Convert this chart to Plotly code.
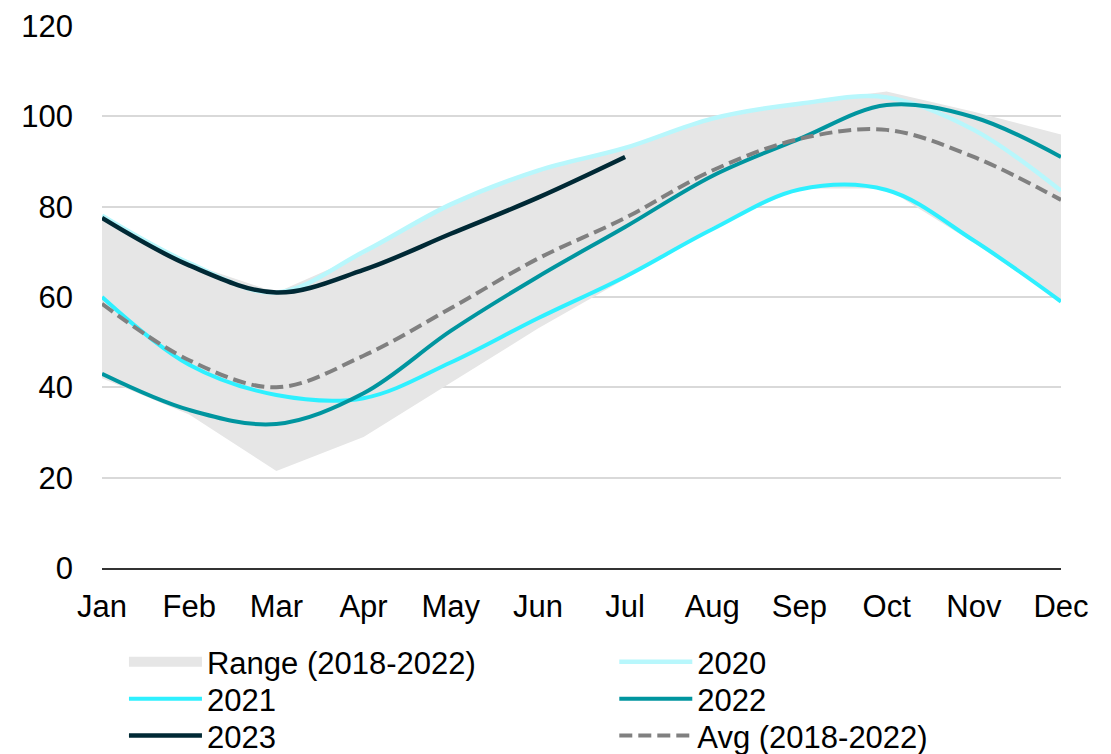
import plotly.graph_objects as go

months = ["Jan", "Feb", "Mar", "Apr", "May", "Jun", "Jul", "Aug", "Sep", "Oct", "Nov", "Dec"]

range_low = [42, 34, 21.5, 29, 41, 53, 64, 75.5, 84, 84, 72, 59]
range_high = [78, 67.5, 61, 69.5, 80.5, 88, 93, 99.5, 103, 105.5, 101, 96]

y2020 = [78, 67.5, 61, 70, 80.5, 88, 93, 99.5, 102.8, 104.2, 97, 83.5]
y2021 = [60, 45, 38.3, 37.6, 45.5, 55.3, 64.5, 75, 83.8, 83.7, 72.5, 59]
y2022 = [43, 35, 31.9, 38.7, 52.5, 64.5, 75.5, 86.8, 95, 102.5, 99.8, 91]
y2023 = [77.5, 67, 61, 66, 74, 82, 91]
yavg = [58.5, 46, 40, 47, 57.5, 68.5, 77.5, 88, 95, 97, 91, 81.5]

FONT = "Liberation Sans, Arial, sans-serif"
FS = 31
LFS = 31

fig = go.Figure()
fig.add_trace(go.Scatter(x=months, y=range_low, mode="lines", line=dict(width=0, color="#e6e6e6"),
                         showlegend=False, hoverinfo="skip"))
fig.add_trace(go.Scatter(x=months, y=range_high, mode="lines", line=dict(width=0, color="#e6e6e6"),
                         fill="tonexty", fillcolor="#e6e6e6", name="Range (2018-2022)",
                         showlegend=False))
# legend-only entry for the range band
fig.add_trace(go.Scatter(x=[None], y=[None], mode="lines", name="Range (2018-2022)",
                         line=dict(color="#e6e6e6", width=17), legend="legend"))
fig.add_trace(go.Scatter(x=months, y=y2020, mode="lines", name="2020", legend="legend2",
                         line=dict(color="#b8f7fc", width=4.5, shape="spline")))
fig.add_trace(go.Scatter(x=months, y=y2021, mode="lines", name="2021", legend="legend3",
                         line=dict(color="#2ef0ff", width=4, shape="spline")))
fig.add_trace(go.Scatter(x=months, y=y2022, mode="lines", name="2022", legend="legend4",
                         line=dict(color="#00959f", width=4, shape="spline")))
fig.add_trace(go.Scatter(x=months[:len(y2023)], y=y2023, mode="lines", name="2023", legend="legend5",
                         line=dict(color="#002935", width=4.5, shape="spline")))
fig.add_trace(go.Scatter(x=months, y=yavg, mode="lines", name="Avg (2018-2022)", legend="legend6",
                         line=dict(color="#808080", width=4, dash="13px,6px", shape="spline")))

leg_common = dict(orientation="v", yanchor="top", xanchor="left", itemwidth=73,
                  traceorder="normal", font=dict(size=LFS, family=FONT, color="black"),
                  tracegroupgap=0, bgcolor="rgba(0,0,0,0)", borderwidth=0)

col_x = [0.0229, 0.5342]
row_y = [-0.1236, -0.1919, -0.2601]

fig.update_layout(
    width=1103, height=746,
    margin=dict(l=94, r=50, t=18, b=186, autoexpand=False),
    paper_bgcolor="white", plot_bgcolor="white",
    font=dict(family=FONT, size=FS, color="black"),
    xaxis=dict(showgrid=False, showline=True, linecolor="#333333", linewidth=1.5,
               ticks="", tickfont=dict(size=FS), ticklabelstandoff=10,
               range=[0, 11], fixedrange=True),
    yaxis=dict(range=[0, 120], dtick=20, showgrid=True, gridcolor="#d9d9d9", gridwidth=1.5,
               zeroline=False, showline=False, ticks="", tickfont=dict(size=FS),
               ticklabelstandoff=28),
    legend=dict(x=col_x[0], y=row_y[0], **leg_common),
    legend2=dict(x=col_x[1], y=row_y[0], **leg_common),
    legend3=dict(x=col_x[0], y=row_y[1], **leg_common),
    legend4=dict(x=col_x[1], y=row_y[1], **leg_common),
    legend5=dict(x=col_x[0], y=row_y[2], **leg_common),
    legend6=dict(x=col_x[1], y=row_y[2], **leg_common),
    showlegend=True,
)

fig.write_html("out.html")
